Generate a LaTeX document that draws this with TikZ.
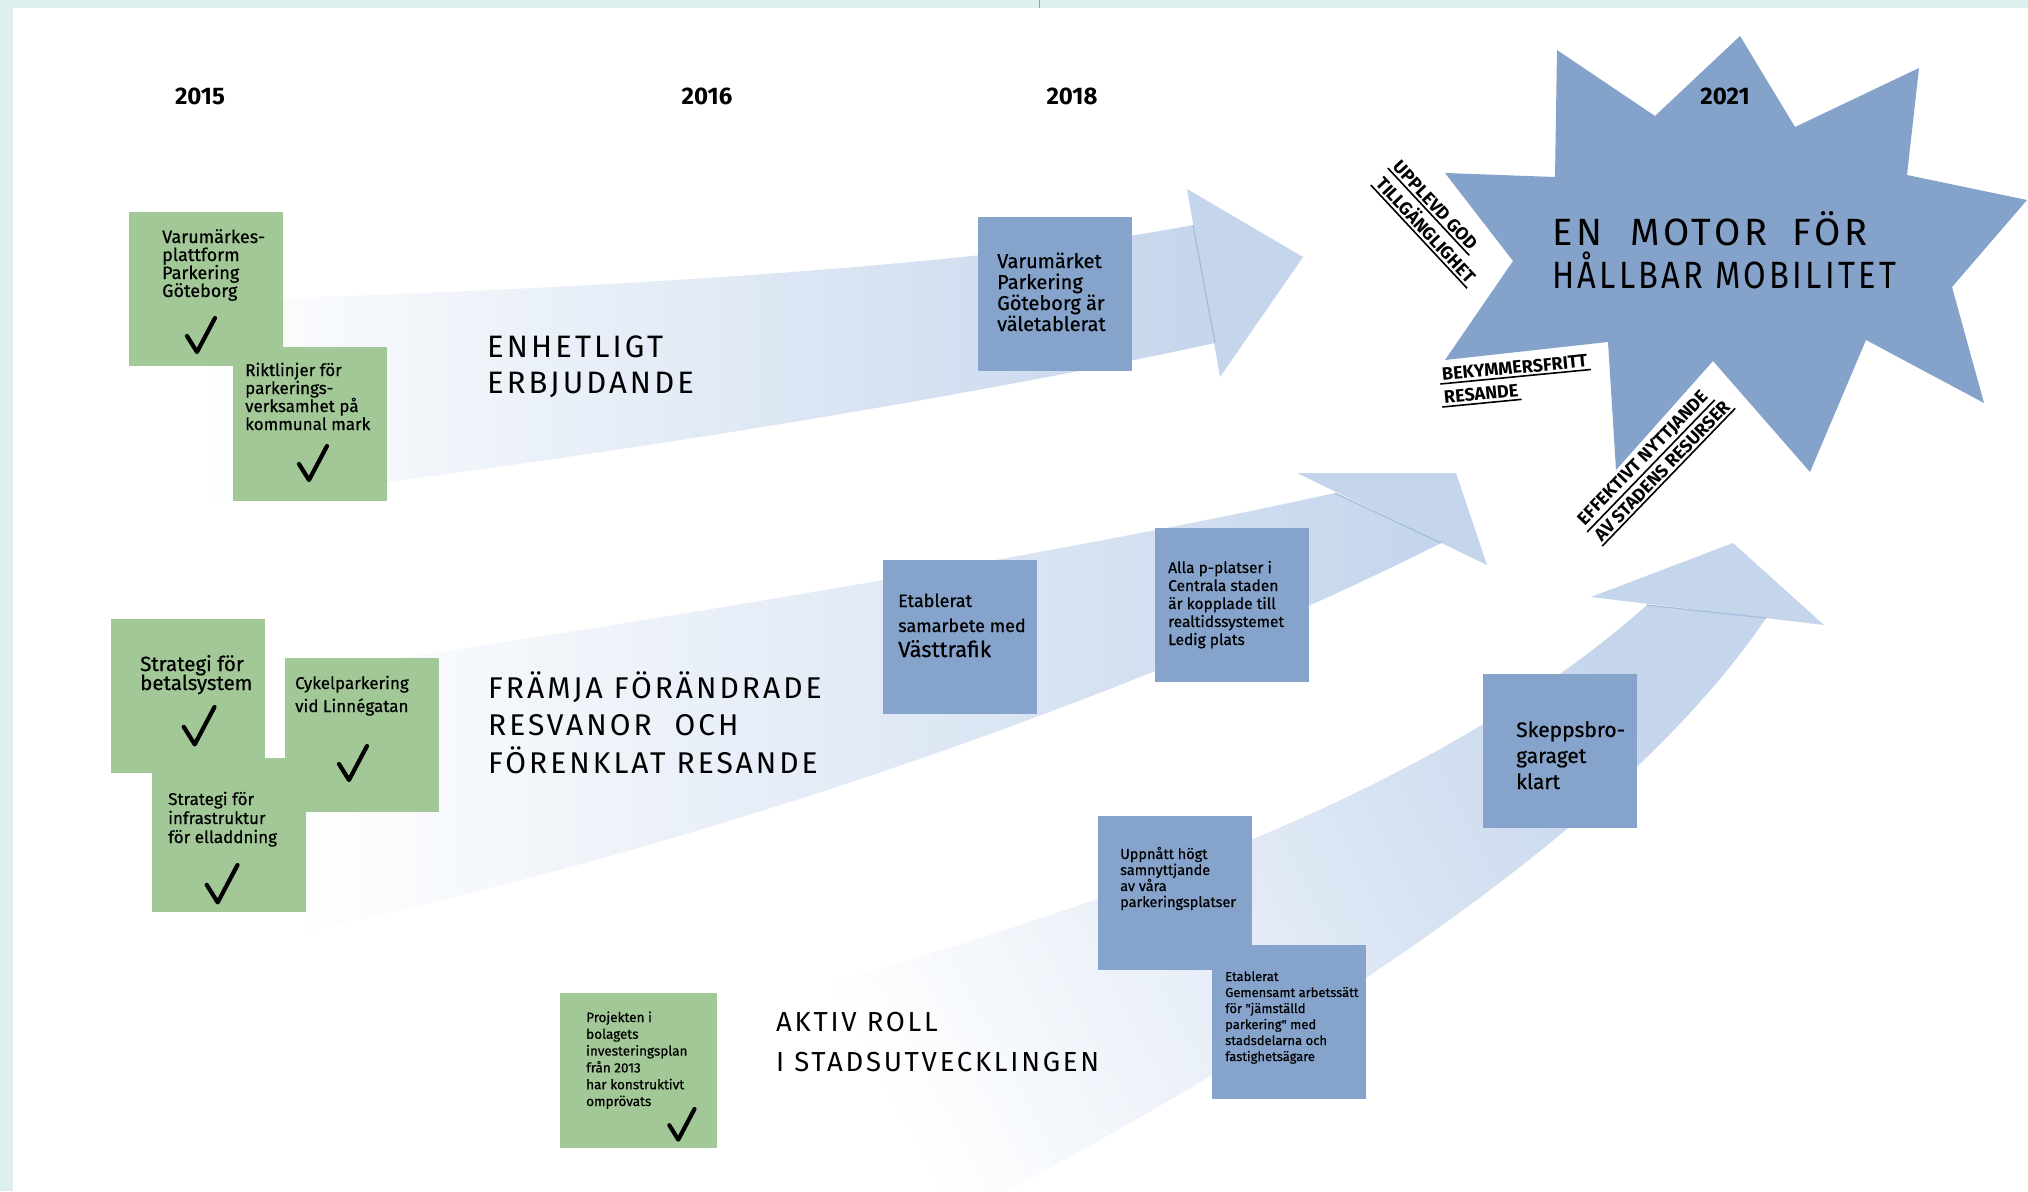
\documentclass[tikz,border=0pt]{standalone}
\usepackage{fontspec}
\usepackage{graphicx}
\setmainfont{Fira Sans}
\newfontfamily\capsfont{Fira Sans}[LetterSpace=10]
\newfontfamily\handfont{Fira Sans}[FakeBold=0.6]

\definecolor{edgecyan}{HTML}{DDF0EF}
\definecolor{arrowblue}{HTML}{C4D5EC}
\definecolor{arrowline}{HTML}{A4BCDE}
\definecolor{noteblue}{HTML}{86A3CB}
\definecolor{notegreen}{HTML}{A3C898}
\definecolor{starblue}{HTML}{85A2CB}

% stacked lines, baseline of the whole box = baseline of the first line
\newcommand\handlines[1]{\vtop{\lineskiplimit=-1000pt\relax\let\\\cr\halign{##\hfil\cr#1\crcr}}}

\tikzset{
  greennote/.style={rectangle, fill=notegreen, inner sep=0, minimum width=154, minimum height=154, anchor=north west},
  bluenote/.style={greennote, fill=noteblue},
  notetext/.style={inner sep=0, anchor=base west, text=black},
  biglabel/.style={inner sep=0, anchor=base west, text=black},
  yearlabel/.style={inner sep=0, font=\bfseries\fontsize{24}{24}\selectfont},
  tag/.style={inner sep=2.5, anchor=base west, font=\bfseries\fontsize{18}{18}\selectfont},
  underl/.style={line width=1.6, black},
  band/.style={left color=white, right color=arrowblue},
  head/.style={fill=arrowblue},
  joint/.style={arrowline, line width=1.2},
  checkmark/.pic={\draw[line width=4.2, line cap=round, line join=round] (-13,-2) -- (-3,14) -- (15,-20);}
}

\begin{document}
\begin{tikzpicture}[x=1pt, y=-1pt]
\useasboundingbox (0,0) rectangle (2028,1191);
% page background and frame strips
\fill[white] (0,0) rectangle (2028,1191);
\fill[edgecyan] (0,0) rectangle (13,1191);
\fill[edgecyan] (0,0) rectangle (2028,8);
\draw[noteblue, line width=1] (1039,0) -- (1039,8);

% ---- three shaded bands ----
\shade[band] (195,301) .. controls (650,288) and (1000,262) .. (1193,225)
  -- (1215,343) .. controls (1000,390) and (600,460) .. (195,505) -- cycle;
\shade[band] (290,674) .. controls (700,615) and (1100,545) .. (1335,493)
  -- (1441,543) .. controls (1150,690) and (700,850) .. (290,934) -- cycle;
\shade[left color=white, right color=arrowblue, shading angle=118]
  (770,1000) .. controls (1150,895) and (1450,780) .. (1647,605)
  -- (1766,618) .. controls (1650,790) and (1400,980) .. (1000,1195)
  -- (760,1195) -- cycle;

% ---- arrow heads ----
\fill[head] (1187,189) -- (1303,257) -- (1220,377) -- cycle;
\fill[head] (1297,473) -- (1456,473) -- (1487,565) -- cycle;
\fill[head] (1591,597) -- (1733,543) -- (1824,625) -- cycle;
\coordinate (j1a) at (1193,225); \coordinate (j1b) at (1215,343);
\coordinate (j2a) at (1335,493); \coordinate (j2b) at (1441,543);
\coordinate (j3a) at (1647,605); \coordinate (j3b) at (1766,618);
\draw[joint] (j1a) -- (j1b);
\draw[joint] (j2a) -- (j2b);
\draw[joint] (j3a) -- (j3b);

% ---- star ----
\fill[starblue] (1557,50) -- (1655,116) -- (1740,36) -- (1795,127) -- (1919,68)
  -- (1907,175) -- (2027,200) -- (1952,287) -- (1984,403) -- (1866,340)
  -- (1810,472) -- (1713,361) -- (1616,470) -- (1608,342) -- (1445,360)
  -- (1513,261) -- (1445,173) -- (1555,177) -- cycle;

% ---- years ----
\node[yearlabel] (y15) at (200,96) {2015};
\node[yearlabel] (y16) at (707,96) {2016};
\node[yearlabel] (y18) at (1072,96) {2018};
\node[yearlabel] (y21) at (1725,96) {2021};

% ---- green notes (done) ----
\node[greennote] (n1) at (129,212) {};
\node[greennote] (n2) at (233,347) {};
\node[greennote] (n3) at (111,619) {};
\node[greennote] (n5) at (152,758) {};
\node[greennote] (n4) at (285,658) {};
\node[greennote, minimum width=157, minimum height=155] (n6) at (560,993) {};

\node[notetext, font=\handfont\fontsize{18}{18}\selectfont] (t1) at (162,243)
  {\handlines{Varumärkes-\\plattform\\Parkering\\Göteborg}};
\pic at (200,338) {checkmark};
\node[notetext, font=\handfont\fontsize{17}{18}\selectfont] (t2) at (245,376)
  {\handlines{Riktlinjer för\\parkerings-\\verksamhet på\\kommunal mark}};
\pic at (312,466) {checkmark};
\node[notetext, font=\handfont\fontsize{20.5}{19}\selectfont] (t3) at (140,671)
  {\handlines{Strategi för\\betalsystem}};
\pic[scale=1.1] at (198,729) {checkmark};
\node[notetext, font=\handfont\fontsize{17}{19}\selectfont] (t5) at (168,805)
  {\handlines{Strategi för\\infrastruktur\\för elladdning}};
\pic[scale=1.1] at (221,887) {checkmark};
\node[notetext, font=\handfont\fontsize{17}{23}\selectfont] (t4) at (295,689)
  {\handlines{Cykelparkering\\vid Linnégatan}};
\pic at (352,766) {checkmark};
\node[notetext, font=\handfont\fontsize{13.5}{16.8}\selectfont] (t6) at (586,1022)
  {\handlines{Projekten i\\bolagets\\investeringsplan\\från 2013\\har konstruktivt\\omprövats}};
\pic[scale=0.9] at (681,1127) {checkmark};

% ---- blue notes (goals) ----
\node[bluenote] (b7) at (978,217) {};
\node[bluenote] (b8) at (883,560) {};
\node[bluenote] (b9) at (1155,528) {};
\node[bluenote] (b10) at (1483,674) {};
\node[bluenote] (b11) at (1098,816) {};
\node[bluenote] (b12) at (1212,945) {};

\node[notetext, font=\handfont\fontsize{20}{21}\selectfont] (t7) at (997,268)
  {\handlines{Varumärket\\Parkering\\Göteborg är\\väletablerat}};
\node[notetext, font=\handfont\fontsize{18}{25}\selectfont] (t8) at (898,607)
  {\handlines{Etablerat\\samarbete med\\{\fontsize{22}{25}\selectfont Västtrafik}}};
\node[notetext, font=\handfont\fontsize{15.5}{18}\selectfont] (t9) at (1168,573)
  {\handlines{Alla p-platser i\\Centrala staden\\är kopplade till\\realtidssystemet\\Ledig plats}};
\node[notetext, font=\handfont\fontsize{21}{26}\selectfont] (t10) at (1516,737)
  {\handlines{Skeppsbro-\\garaget\\klart}};
\node[notetext, font=\handfont\fontsize{14.5}{16}\selectfont] (t11) at (1120,859)
  {\handlines{Uppnått högt\\samnyttjande\\av våra\\parkeringsplatser}};
\node[notetext, font=\handfont\fontsize{13}{16}\selectfont] (t12) at (1225,981)
  {\handlines{Etablerat\\Gemensamt arbetssätt\\för "jämställd\\parkering" med\\stadsdelarna och\\fastighetsägare}};

% ---- band titles ----
\node[biglabel, font=\capsfont\fontsize{31}{36}\selectfont] (l1) at (487,357)
  {\handlines{ENHETLIGT\\ERBJUDANDE}};
\node[biglabel, font=\capsfont\fontsize{30}{37.5}\selectfont] (l2) at (488,698)
  {\handlines{FRÄMJA FÖRÄNDRADE\\RESVANOR\hspace{12pt} OCH\\FÖRENKLAT RESANDE}};
\node[biglabel, font=\capsfont\fontsize{27.5}{40}\selectfont] (l3) at (776,1031)
  {\handlines{AKTIV ROLL\\I STADSUTVECKLINGEN}};
\node[biglabel, font=\capsfont\fontsize{38}{43}\selectfont] (l4) at (1552,245)
  {\handlines{EN\hspace{14pt} MOTOR\hspace{12pt} FÖR\\\scalebox{0.86}[1]{HÅLLBAR MOBILITET}}};

% ---- tags around the star ----
\node[tag, rotate=-47] (ug1) at (1390,166) {UPPLEVD GOD};
\node[tag, rotate=-47] (ug2) at (1373,183) {TILLGÄNGLIGHET};
\draw[underl] (ug1.south west) -- (ug1.south east);
\draw[underl] (ug2.south west) -- (ug2.south east);

\node[tag, rotate=5.5] (bk1) at (1440,381) {BEKYMMERSFRITT};
\node[tag, rotate=5.5] (bk2) at (1442,404) {RESANDE};
\draw[underl] (bk1.south west) -- (bk1.south east);
\draw[underl] (bk2.south west) -- (bk2.south east);

\node[tag, rotate=46] (ef1) at (1583,528) {EFFEKTIVT NYTTJANDE};
\node[tag, rotate=46] (ef2) at (1600,544) {AV STADENS RESURSER};
\draw[underl] (ef1.south west) -- (ef1.south east);
\draw[underl] (ef2.south west) -- (ef2.south east);
\end{tikzpicture}
\end{document}
